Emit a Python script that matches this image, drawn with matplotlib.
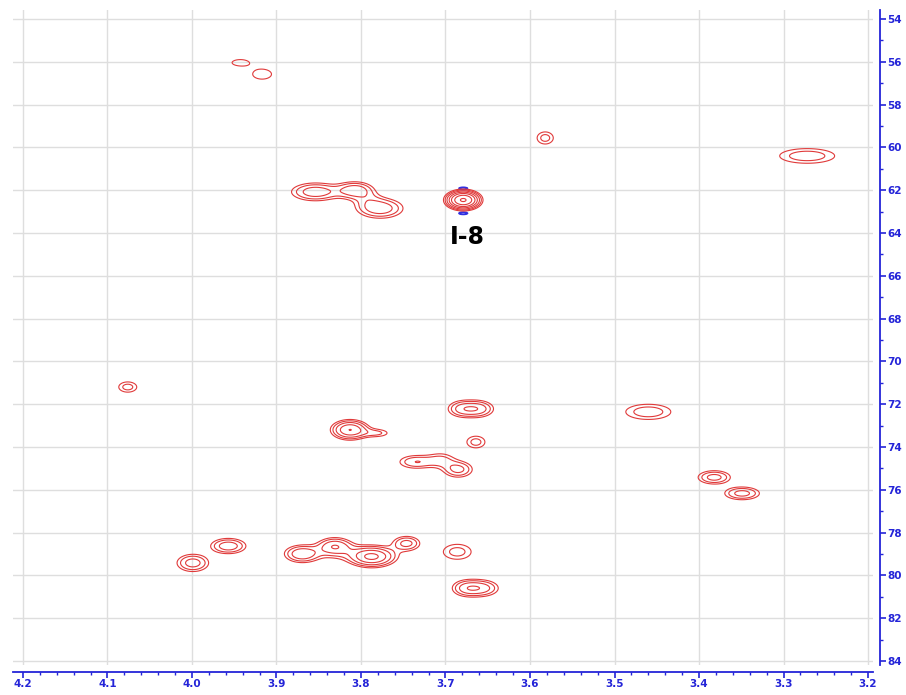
import matplotlib
matplotlib.use("Agg")
import matplotlib.pyplot as plt
import numpy as np
from matplotlib.ticker import MultipleLocator, FormatStrFormatter

# HSQC cross peaks: 1H shift, 13C shift, height, 1H width, 13C width
peak_h = [3.943, 3.917, 3.582, 3.272,
          3.854, 3.807, 3.777, 3.792, 3.679,
          4.076, 3.680, 3.660, 3.460,
          3.813, 3.781, 3.664,
          3.735, 3.705, 3.685,
          3.382, 3.349,
          3.957, 3.999,
          3.870, 3.831, 3.787, 3.746, 3.815,
          3.686, 3.675, 3.655]
peak_c = [56.04, 56.58, 59.56, 60.40,
          62.08, 62.00, 62.85, 62.45, 62.46,
          71.20, 72.22, 72.22, 72.36,
          73.20, 73.35, 73.77,
          74.70, 74.60, 75.05,
          75.42, 76.17,
          78.63, 79.42,
          79.00, 78.63, 79.14, 78.50, 78.95,
          78.90, 80.60, 80.60]
peak_amp = [1.4, 1.4, 1.8, 2.0,
            3.0, 3.0, 3.0, 0.9, 12.0,
            1.8, 2.6, 2.6, 2.0,
            5.0, 1.6, 1.8,
            2.2, 1.6, 2.6,
            2.7, 2.7,
            3.0, 2.8,
            3.0, 3.0, 5.0, 2.6, 0.9,
            1.8, 2.6, 2.4]
peak_wh = [0.0115, 0.0135, 0.0088, 0.0276,
           0.019, 0.014, 0.018, 0.012, 0.0105,
           0.0098, 0.012, 0.012, 0.0226,
           0.013, 0.012, 0.0098,
           0.015, 0.012, 0.012,
           0.0135, 0.0145,
           0.014, 0.013,
           0.013, 0.013, 0.016, 0.011, 0.04,
           0.015, 0.012, 0.013]
peak_wc = [0.17, 0.28, 0.26, 0.29,
           0.28, 0.26, 0.31, 0.30, 0.23,
           0.22, 0.26, 0.26, 0.30,
           0.27, 0.15, 0.25,
           0.23, 0.26, 0.26,
           0.22, 0.21,
           0.24, 0.28,
           0.26, 0.26, 0.28, 0.23, 0.30,
           0.32, 0.26, 0.26]

# small negative (blue) lobes around the I-8 peak
neg_h = [3.679, 3.679]
neg_c = [61.92, 63.08]

label_text = "I-8"
label_pos = (3.674, 64.2)

levels = [1.0, 1.5, 2.25, 3.4, 5.0, 7.6, 11.4]

xs = np.linspace(3.18, 4.23, 1400)
ys = np.linspace(53.4, 84.4, 1000)
X, Y = np.meshgrid(xs, ys)
Z = np.zeros_like(X)
for h, c, a, wh, wc in zip(peak_h, peak_c, peak_amp, peak_wh, peak_wc):
    Z += a * np.exp(-0.5 * ((X - h) / wh) ** 2 - 0.5 * ((Y - c) / wc) ** 2)
N = np.zeros_like(X)
for h, c in zip(neg_h, neg_c):
    N += 1.3 * np.exp(-0.5 * ((X - h) / 0.007) ** 2 - 0.5 * ((Y - c) / 0.07) ** 2)

fig = plt.figure(figsize=(9.06, 6.95), dpi=100)
ax = fig.add_axes([13 / 906, 1 - 665 / 695, 860 / 906, 655 / 695])

ax.contour(X, Y, N, levels=[1.0], colors='#3030e0', linewidths=1.3)
ax.contour(X, Y, Z, levels=levels, colors='#e03a3a', linewidths=0.8)

ax.text(label_pos[0], label_pos[1], label_text, fontsize=17, fontweight='bold',
        ha='center', va='center', color='black')

ax.set_xlim(4.2118, 3.1941)
ax.set_ylim(84.19, 53.58)

ax.xaxis.set_major_locator(MultipleLocator(0.1))
ax.xaxis.set_minor_locator(MultipleLocator(0.02))
ax.yaxis.set_major_locator(MultipleLocator(2))
ax.yaxis.set_minor_locator(MultipleLocator(1))
ax.xaxis.set_major_formatter(FormatStrFormatter('%.1f'))
ax.yaxis.set_major_formatter(FormatStrFormatter('%d'))

ax.grid(True, which='major', color='#dedede', linewidth=1.0)
ax.set_axisbelow(True)

blue = '#2424d8'
for side in ['top', 'left']:
    ax.spines[side].set_visible(False)
for side in ['bottom', 'right']:
    ax.spines[side].set_color(blue)
    ax.spines[side].set_linewidth(1.3)
    ax.spines[side].set_position(('outward', 5))

ax.yaxis.tick_right()
ax.tick_params(axis='both', which='major', colors=blue, length=4, width=1.2,
               labelsize=7.5, pad=1)
ax.tick_params(axis='both', which='minor', colors=blue, length=2, width=1.0)
for lab in ax.get_xticklabels() + ax.get_yticklabels():
    lab.set_fontweight('bold')

fig.savefig('out.png', dpi=100)
